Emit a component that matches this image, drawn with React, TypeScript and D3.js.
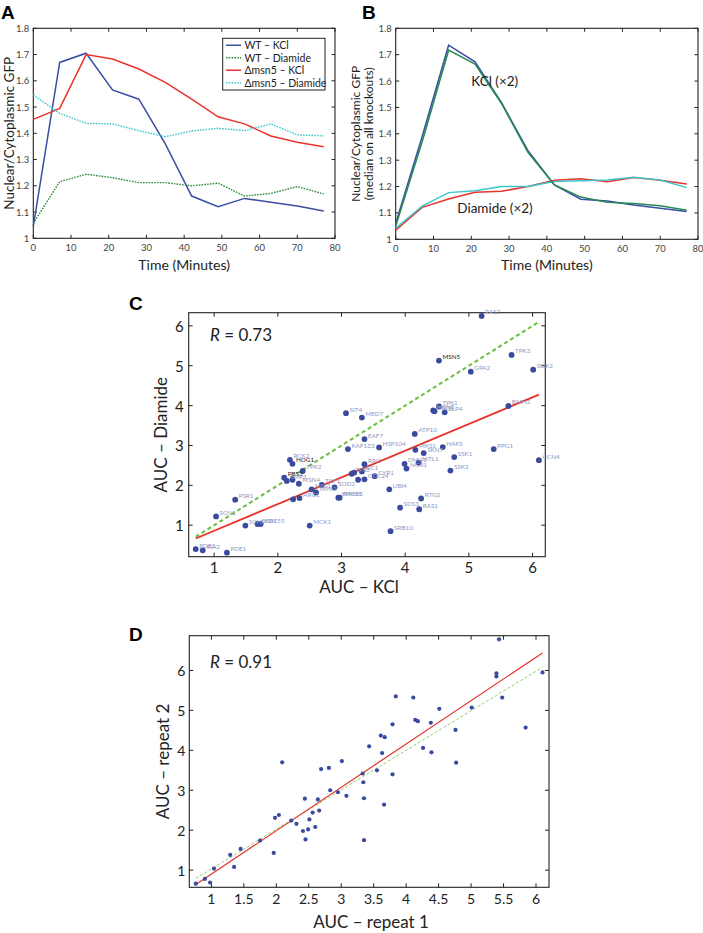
import React from 'react';
import * as d3 from 'd3';

// ---- panel A / B time courses ----
const timePoints = [0, 7, 14, 21, 28, 35, 42, 49, 56, 63, 70, 77];
const wtKcl = [1.045, 1.67, 1.705, 1.565, 1.53, 1.36, 1.161, 1.12, 1.152, 1.137, 1.123, 1.104];
const wtDiamide = [1.057, 1.216, 1.244, 1.231, 1.212, 1.212, 1.2, 1.21, 1.161, 1.171, 1.197, 1.169];
const msn5Kcl = [1.453, 1.495, 1.7, 1.683, 1.645, 1.594, 1.53, 1.463, 1.436, 1.39, 1.366, 1.349];
const msn5Diamide = [1.546, 1.476, 1.438, 1.436, 1.41, 1.387, 1.409, 1.419, 1.41, 1.436, 1.394, 1.39];

const bKclA = [1.06, 1.39, 1.736, 1.673, 1.518, 1.336, 1.206, 1.152, 1.145, 1.13, 1.118, 1.105];
const bKclB = [1.05, 1.37, 1.717, 1.664, 1.515, 1.33, 1.206, 1.16, 1.14, 1.136, 1.127, 1.11];
const bDiaA = [1.035, 1.121, 1.153, 1.178, 1.182, 1.2, 1.224, 1.23, 1.218, 1.234, 1.224, 1.21];
const bDiaB = [1.042, 1.126, 1.177, 1.184, 1.2, 1.2, 1.219, 1.222, 1.225, 1.235, 1.225, 1.196];

const timeTicks = [0, 10, 20, 30, 40, 50, 60, 70, 80];
const ratioTicks = [1, 1.1, 1.2, 1.3, 1.4, 1.5, 1.6, 1.7, 1.8];

const legendA = ['WT – KCl', 'WT – Diamide', 'Δmsn5 – KCl', 'Δmsn5 – Diamide'];

// ---- panel C: AUC KCl vs Diamide per knockout ----
const cGenes = ['RAS2', 'MSN5', 'TPK3', 'GPA2', 'SOK2', 'BMH2', 'TPK1', 'MSN2', 'SKO1', 'ELP4',
  'SIT4', 'MED7', 'ATP10', 'EAF7', 'KAP123', 'HSP104', 'MKS1', 'SKN7', 'HAP3', 'SSK1',
  'PPG1', 'GCN4', 'DMA1', 'NGR1', 'MTL1', 'SSK2', 'RPI1', 'TPS2', '', 'ISC1',
  '', 'CDC24', 'CYR1', 'RCK2', 'HOG1', 'TPK2', 'PBS2', 'SMP1', '', 'MSN4',
  'MIG1', 'WHI2', 'TAF1', 'SOD2', 'PHO85', 'RIM15', '', 'ARG1', 'UBI4', 'RTG2',
  'SDS3', 'RAS1', 'SRB10', 'MCK1', 'PSR1', 'SOV1', 'SCH9', 'CKB1', 'CDC55', 'PDE2',
  'IRA2', 'PDE1'];
const cKcl = [5.2, 4.53, 5.67, 5.03, 6.01, 5.62, 4.53, 4.44, 4.46, 4.62,
  3.07, 3.32, 4.15, 3.36, 3.1, 3.59, 4.16, 4.29, 4.59, 4.77,
  5.39, 6.1, 3.99, 4.02, 4.21, 4.71, 3.36, 3.16, 3.2, 3.32,
  3.26, 3.36, 3.52, 2.19, 2.23, 2.39, 2.1, 2.14, 2.23, 2.33,
  2.53, 2.6, 2.69, 2.89, 2.95, 2.97, 2.24, 2.34, 3.75, 4.25,
  3.92, 4.22, 3.77, 2.5, 1.33, 1.03, 1.49, 1.68, 1.73, 0.71,
  0.82, 1.2];
const cDiamide = [6.25, 5.13, 5.27, 4.85, 4.9, 3.99, 3.98, 3.88, 3.86, 3.83,
  3.81, 3.7, 3.29, 3.16, 2.91, 2.95, 2.89, 2.81, 2.96, 2.71,
  2.91, 2.63, 2.54, 2.42, 2.57, 2.37, 2.53, 2.29, 2.32, 2.35,
  2.14, 2.15, 2.23, 2.64, 2.54, 2.36, 2.19, 2.11, 2.14, 2.04,
  1.9, 1.82, 2.01, 1.95, 1.69, 1.69, 1.65, 1.68, 1.9, 1.67,
  1.44, 1.4, 0.85, 0.99, 1.64, 1.22, 0.99, 1.03, 1.03, 0.4,
  0.37, 0.31];
const cHighlight = ['MSN5', 'HOG1', 'PBS2'];
const cFitRange = [0.71, 6.1];
const cFitSlope = 0.67;
const cFitIntercept = 0.19;
const cTicks = [1, 2, 3, 4, 5, 6];

// ---- panel D: repeat 1 vs repeat 2 ----
const dRep1 = [0.76, 0.9, 0.98, 1.04, 1.29, 1.35, 1.45, 1.75, 1.96, 1.98, 2.04, 2.09, 2.23, 2.31,
  2.41, 2.45, 2.44, 2.49, 2.51, 2.56, 2.6, 2.64, 2.66, 2.69, 2.81, 2.83, 2.95, 3.01, 3.08,
  3.33, 3.34, 3.35, 3.35, 3.43, 3.55, 3.61, 3.63, 3.66, 3.67, 3.79, 3.79, 3.84, 4.11, 4.14,
  4.18, 4.26, 4.38, 4.39, 4.51, 4.76, 4.77, 5.01, 5.39, 5.39, 5.43, 5.48, 5.84, 6.1];
const dRep2 = [0.66, 0.78, 0.69, 1.04, 1.38, 1.08, 1.53, 1.74, 1.43, 2.31, 2.38, 3.7, 2.24, 2.16,
  1.98, 1.77, 2.79, 2.02, 2.27, 2.44, 2.08, 2.77, 2.49, 3.53, 3.56, 3.0, 2.95, 3.73, 2.86,
  3.42, 3.2, 2.8, 1.75, 4.1, 3.5, 4.37, 3.93, 2.64, 4.33, 4.65, 3.4, 5.35, 5.32, 4.76,
  4.73, 4.06, 4.69, 3.95, 5.04, 4.51, 3.69, 5.07, 5.93, 5.85, 6.78, 5.32, 4.57, 5.95];
const dFitRange = [0.76, 6.1];
const dFitSlope = 1.086;
const dFitIntercept = -0.185;
const dDiagSlope = 0.99;
const dDiagIntercept = 0.04;
const dTicksX = [1, 1.5, 2, 2.5, 3, 3.5, 4, 4.5, 5, 5.5, 6];
const dTicksY = [1, 2, 3, 4, 5, 6];

const FONT = 'Lato, "Open Sans", "DejaVu Sans", sans-serif';

type Scale = d3.ScaleLinear<number, number>;

function Frame({ x, y, xTicks, yTicks, fmtX, fmtY, fontSize, tickLen, xLabelDy, yLabelDx, color }: {
  x: Scale; y: Scale; xTicks: number[]; yTicks: number[];
  fmtX: (v: number) => string; fmtY: (v: number) => string;
  fontSize: number; tickLen: number; xLabelDy: number; yLabelDx: number; color: string;
}) {
  const [x0, x1] = x.range();
  const [y0, y1] = y.range(); // y0 bottom, y1 top
  return (
    <g>
      <rect x={x0} y={y1} width={x1 - x0} height={y0 - y1} fill="none" stroke="#222" strokeWidth={1.1} />
      {xTicks.map((t) => (
        <g key={'x' + t}>
          <line x1={x(t)} x2={x(t)} y1={y0} y2={y0 - tickLen} stroke="#222" />
          <line x1={x(t)} x2={x(t)} y1={y1} y2={y1 + tickLen} stroke="#222" />
          <text x={x(t)} y={y0 + xLabelDy} textAnchor="middle" fontSize={fontSize} fill={color} fontFamily={FONT}>{fmtX(t)}</text>
        </g>
      ))}
      {yTicks.map((t) => (
        <g key={'y' + t}>
          <line x1={x0} x2={x0 + tickLen} y1={y(t)} y2={y(t)} stroke="#222" />
          <line x1={x1} x2={x1 - tickLen} y1={y(t)} y2={y(t)} stroke="#222" />
          <text x={x0 - yLabelDx} y={y(t)} textAnchor="end" dominantBaseline="central" fontSize={fontSize} fill={color} fontFamily={FONT}>{fmtY(t)}</text>
        </g>
      ))}
    </g>
  );
}

const fmtPlain = (v: number) => String(v);
const fmtRatio = (v: number) => (v === 1 ? '1' : v.toFixed(1));

export default function App() {
  // panel A
  const xA = d3.scaleLinear().domain([0, 80]).range([33.3, 335]);
  const yA = d3.scaleLinear().domain([1, 1.8]).range([238.3, 28.3]);
  const lineA = d3.line<number>().x((_, i) => xA(timePoints[i])).y((v) => yA(v));

  // panel B
  const xB = d3.scaleLinear().domain([0, 80]).range([395.7, 698]);
  const yB = d3.scaleLinear().domain([1, 1.8]).range([239.3, 28.3]);
  const lineB = d3.line<number>().x((_, i) => xB(timePoints[i])).y((v) => yB(v));

  // panel C
  const xC = d3.scaleLinear().domain([0.6, 6.2]).range([188.7, 545.3]);
  const yC = d3.scaleLinear().domain([0.21, 6.33]).range([556.7, 312.7]);

  // panel D
  const xD = d3.scaleLinear().domain([0.66, 6.2]).range([189.3, 549]);
  const yD = d3.scaleLinear().domain([0.57, 6.87]).range([887.3, 635.7]);

  const seriesA = [
    { data: wtKcl, color: '#3a4ea3', dash: undefined, label: legendA[0] },
    { data: wtDiamide, color: '#2c8a3c', dash: '1.6,1.2', label: legendA[1] },
    { data: msn5Kcl, color: '#e8342c', dash: undefined, label: legendA[2] },
    { data: msn5Diamide, color: '#3cc8cc', dash: '1.6,1.2', label: legendA[3] },
  ];
  const seriesB = [
    { data: bDiaA, color: '#e8342c' },
    { data: bDiaB, color: '#3cc6ca' },
    { data: bKclA, color: '#3a4ea3' },
    { data: bKclB, color: '#248a52' },
  ];

  const legendY = d3.scaleBand<string>().domain(legendA).range([39, 89]).paddingInner(0);

  return (
    <svg width={703} height={933} style={{ position: 'absolute', left: 0, top: 0, background: '#fff' }} fontFamily={FONT}>
      <rect width={703} height={933} fill="#fff" />

      {/* ---------- A ---------- */}
      <text x={1} y={19} fontSize={19} fontWeight="bold" fontFamily="'Liberation Sans', Arial, sans-serif">A</text>
      <Frame x={xA} y={yA} xTicks={timeTicks} yTicks={ratioTicks} fmtX={fmtPlain} fmtY={fmtRatio}
        fontSize={9.5} tickLen={3.5} xLabelDy={13} yLabelDx={4} color="#444" />
      {seriesA.map((s) => (
        <path key={s.label} d={lineA(s.data) ?? ''} fill="none" stroke={s.color} strokeWidth={s.dash ? 1.4 : 1.5} strokeDasharray={s.dash} />
      ))}
      <rect x={222.7} y={38.3} width={102.3} height={51.7} fill="#fff" stroke="#222" strokeWidth={1} />
      {seriesA.map((s) => {
        const cy = (legendY(s.label) ?? 0) + legendY.bandwidth() / 2;
        return (
          <g key={'lg' + s.label}>
            <line x1={226} x2={241} y1={cy} y2={cy} stroke={s.color} strokeWidth={1.5} strokeDasharray={s.dash} />
            <text x={244.5} y={cy} dominantBaseline="central" fontSize={10.5} fill="#222">{s.label}</text>
          </g>
        );
      })}
      <text transform={`translate(9,${(yA.range()[0] + yA.range()[1]) / 2}) rotate(-90)`} textAnchor="middle" dominantBaseline="central" fontSize={13.5} fill="#222">Nuclear/Cytoplasmic GFP</text>
      <text x={(xA.range()[0] + xA.range()[1]) / 2} y={270} textAnchor="middle" fontSize={14} fill="#222">Time (Minutes)</text>

      {/* ---------- B ---------- */}
      <text x={362} y={19} fontSize={19} fontWeight="bold" fontFamily="'Liberation Sans', Arial, sans-serif">B</text>
      <Frame x={xB} y={yB} xTicks={timeTicks} yTicks={ratioTicks} fmtX={fmtPlain} fmtY={fmtRatio}
        fontSize={9.5} tickLen={3.5} xLabelDy={13} yLabelDx={4} color="#444" />
      {seriesB.map((s, i) => (
        <path key={'b' + i} d={lineB(s.data) ?? ''} fill="none" stroke={s.color} strokeWidth={1.5} />
      ))}
      <text x={xB(20)} y={yB(1.6)} dx={0} dominantBaseline="central" fontSize={13.5} fill="#222">KCl (×2)</text>
      <text x={xB(16.3)} y={yB(1.117)} dominantBaseline="central" fontSize={13.5} fill="#222">Diamide (×2)</text>
      <text transform={`translate(355,${(yB.range()[0] + yB.range()[1]) / 2}) rotate(-90)`} textAnchor="middle" dominantBaseline="central" fontSize={12} fill="#222">Nuclear/Cytoplasmic GFP</text>
      <text transform={`translate(368.5,${(yB.range()[0] + yB.range()[1]) / 2}) rotate(-90)`} textAnchor="middle" dominantBaseline="central" fontSize={12} fill="#222">(median on all knockouts)</text>
      <text x={(xB.range()[0] + xB.range()[1]) / 2} y={270} textAnchor="middle" fontSize={14} fill="#222">Time (Minutes)</text>

      {/* ---------- C ---------- */}
      <text x={129} y={310} fontSize={19} fontWeight="bold" fontFamily="'Liberation Sans', Arial, sans-serif">C</text>
      <Frame x={xC} y={yC} xTicks={cTicks} yTicks={cTicks} fmtX={fmtPlain} fmtY={fmtPlain}
        fontSize={15} tickLen={4} xLabelDy={16} yLabelDx={5} color="#222" />
      <line x1={xC(cFitRange[0])} x2={xC(cFitRange[1])} y1={yC(cFitRange[0])} y2={yC(cFitRange[1])}
        stroke="#6cbd3e" strokeWidth={2} strokeDasharray="4,3" />
      <line x1={xC(cFitRange[0])} x2={xC(cFitRange[1])}
        y1={yC(cFitSlope * cFitRange[0] + cFitIntercept)} y2={yC(cFitSlope * cFitRange[1] + cFitIntercept)}
        stroke="#e8302a" strokeWidth={1.8} />
      {cKcl.map((v, i) => (
        <circle key={'c' + i} cx={xC(v)} cy={yC(cDiamide[i])} r={2.9} fill="#3a4b9e" />
      ))}
      {cKcl.map((v, i) => cGenes[i] ? (
        <text key={'ct' + i} x={xC(v) + 3.5} y={yC(cDiamide[i]) - 1.5} fontSize={6.3}
          fill={cHighlight.includes(cGenes[i]) ? '#222' : '#9096c2'}>{cGenes[i]}</text>
      ) : null)}
      <text x={210} y={341} fontSize={17} fill="#222"><tspan fontStyle="italic">R</tspan> = 0.73</text>
      <text transform={`translate(160,${(yC.range()[0] + yC.range()[1]) / 2}) rotate(-90)`} textAnchor="middle" dominantBaseline="central" fontSize={17} fill="#222">AUC – Diamide</text>
      <text x={359} y={593} textAnchor="middle" fontSize={17} fill="#222">AUC – KCl</text>

      {/* ---------- D ---------- */}
      <text x={129} y={641} fontSize={19} fontWeight="bold" fontFamily="'Liberation Sans', Arial, sans-serif">D</text>
      <Frame x={xD} y={yD} xTicks={dTicksX} yTicks={dTicksY} fmtX={fmtPlain} fmtY={fmtPlain}
        fontSize={14} tickLen={4} xLabelDy={16.5} yLabelDx={4} color="#222" />
      <line x1={xD(dFitRange[0])} x2={xD(dFitRange[1])}
        y1={yD(dDiagSlope * dFitRange[0] + dDiagIntercept)} y2={yD(dDiagSlope * dFitRange[1] + dDiagIntercept)}
        stroke="#8fcf6c" strokeWidth={1} strokeDasharray="3,2" />
      <line x1={xD(dFitRange[0])} x2={xD(dFitRange[1])}
        y1={yD(dFitSlope * dFitRange[0] + dFitIntercept)} y2={yD(dFitSlope * dFitRange[1] + dFitIntercept)}
        stroke="#e8302a" strokeWidth={1.2} />
      {dRep1.map((v, i) => (
        <circle key={'d' + i} cx={xD(v)} cy={yD(dRep2[i])} r={2.1} fill="#3a4b9e" />
      ))}
      <text x={210} y={668} fontSize={17} fill="#222"><tspan fontStyle="italic">R</tspan> = 0.91</text>
      <text transform={`translate(162,${(yD.range()[0] + yD.range()[1]) / 2}) rotate(-90)`} textAnchor="middle" dominantBaseline="central" fontSize={17} fill="#222">AUC – repeat 2</text>
      <text x={371} y={928} textAnchor="middle" fontSize={17} fill="#222">AUC – repeat 1</text>
    </svg>
  );
}
